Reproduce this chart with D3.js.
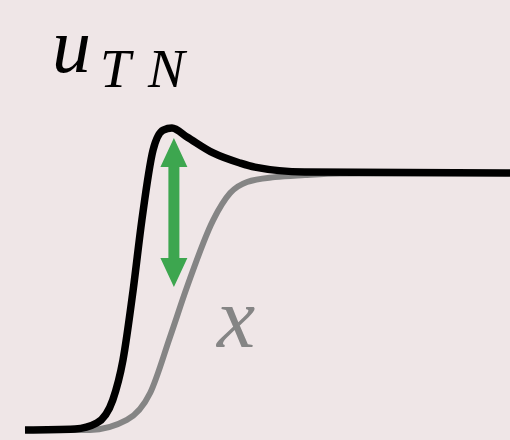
<!DOCTYPE html>
<html>
<head>
<meta charset="utf-8">
<script src="https://cdn.jsdelivr.net/npm/d3@7"></script>
<style>
  html, body { margin: 0; padding: 0; background: #efe6e7; }
  svg { display: block; }
  .math { font-family: 'Liberation Serif', 'Times New Roman', serif; font-style: italic; }
</style>
</head>
<body>
<div id="chart"></div>
<script>
// Response curves (time, amplitude)
const outputT = [0, 1.03, 1.48, 1.81, 2.02, 2.23, 2.41, 2.64, 2.85, 3.03, 3.34, 3.88, 4.43, 4.74, 5.77, 10];
const outputY = [0, 0.004, 0.027, 0.117, 0.272, 0.545, 0.817, 1.089, 1.167, 1.175, 1.140, 1.078, 1.039, 1.023, 1.004, 1];

const inputT = [0, 1.34, 2.10, 2.58, 2.99, 3.34, 3.88, 4.23, 4.58, 5.15, 5.77, 6.49, 10];
const inputY = [0, 0, 0.039, 0.144, 0.362, 0.556, 0.817, 0.922, 0.965, 0.984, 0.992, 0.998, 1];

// green gap arrow
const arrowX = 3.07;
const arrowEnds = [1.136, 0.556];

const mainLabel = 'u';
const subLabel = ['T', 'N'];
const inputLabel = 'x';

(function () {
  const W = 510, H = 440;
  const svg = d3.select('#chart').append('svg')
    .attr('width', W).attr('height', H);

  svg.append('rect').attr('width', W).attr('height', H).attr('fill', '#efe6e7');

  const x = d3.scaleLinear().domain([0, 10]).range([25, 510]);
  const y = d3.scaleLinear().domain([0, 1]).range([430, 173]);

  const line = d3.line()
    .x(d => x(d[0]))
    .y(d => y(d[1]))
    .curve(d3.curveMonotoneX);

  const inputPts = inputT.map((t, i) => [t, inputY[i]]);
  const outputPts = outputT.map((t, i) => [t, outputY[i]]);

  svg.append('path')
    .attr('d', line(inputPts))
    .attr('fill', 'none')
    .attr('stroke', '#858585')
    .attr('stroke-width', 6);

  svg.append('path')
    .attr('d', line(outputPts))
    .attr('fill', 'none')
    .attr('stroke', '#000')
    .attr('stroke-width', 7.5);

  // double arrow
  const ax = x(arrowX);
  const top = y(arrowEnds[0]), bot = y(arrowEnds[1]);
  const headH = 29, headW = 13.5, shaft = 5.5;
  const arrowPath = [
    [ax, top], [ax + headW, top + headH], [ax + shaft, top + headH],
    [ax + shaft, bot - headH], [ax + headW, bot - headH], [ax, bot],
    [ax - headW, bot - headH], [ax - shaft, bot - headH],
    [ax - shaft, top + headH], [ax - headW, top + headH]
  ];
  svg.append('path')
    .attr('d', 'M' + arrowPath.map(p => p.join(',')).join('L') + 'Z')
    .attr('fill', '#3da64f');

  // math-style labels
  const lab = svg.append('g').attr('class', 'math');

  lab.append('text')
    .attr('x', 52).attr('y', 72)
    .attr('font-size', 78)
    .attr('fill', '#000')
    .text(mainLabel);

  lab.selectAll('text.sub')
    .data(subLabel)
    .join('text')
    .attr('class', 'sub')
    .attr('x', (d, i) => 100 + i * 48)
    .attr('y', 87)
    .attr('font-size', 55)
    .attr('fill', '#000')
    .text(d => d);

  lab.append('text')
    .attr('x', 217).attr('y', 347)
    .attr('font-size', 86)
    .attr('fill', '#858585')
    .text(inputLabel);
})();
</script>
</body>
</html>
